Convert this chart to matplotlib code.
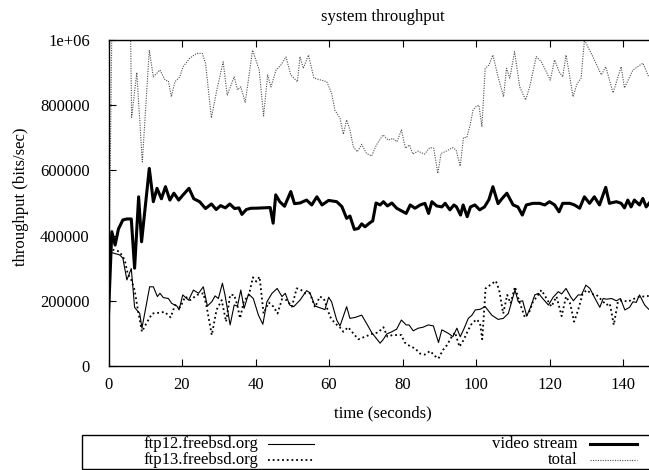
import matplotlib
matplotlib.use('Agg')
import numpy as np
import matplotlib.pyplot as plt
from matplotlib.lines import Line2D
from matplotlib.patches import Rectangle

plt.rcParams['font.family'] = ['Liberation Serif', 'DejaVu Serif']

# ---------------- data (values in kbit/s, time in seconds) ----------------
video_t = [0, 0.9, 1.8, 2.7, 3.9, 5.0, 6.2, 7.1, 8.2, 9.0, 11.1, 12.2, 13.2, 14.4, 15.5, 16.7,
           17.8, 19.1, 20.3, 21.9, 23.2, 24.8, 26.4, 28.0, 29.3, 30.5, 31.8, 33.0, 34.3, 35.5,
           36.3, 37.5, 38.8, 40.0, 44.0, 44.8, 45.5, 46.6, 47.9, 49.6, 50.6, 52.1, 53.9, 55.3,
           56.7, 58.1, 59.9, 62.1, 63.5, 64.8, 65.7, 66.9, 68.0, 68.9, 69.8, 71.2, 71.9, 72.8,
           73.9, 74.8, 75.9, 77.1, 78.4, 81.0, 82.1, 83.4, 84.8, 86.1, 87.1, 88.0, 89.3, 90.7,
           91.6, 92.9, 94.0, 94.7, 95.8, 96.5, 97.6, 98.5, 99.7, 101.0, 102.3, 103.5, 104.6,
           106.0, 107.2, 108.4, 110.1, 111.4, 112.6, 113.7, 115.5, 117.3, 118.7, 120.0, 121.4,
           122.6, 123.6, 125.5, 126.8, 128.2, 129.5, 130.9, 132.2, 133.6, 135.3, 136.3, 138.2,
           139.5, 140.4, 141.3, 142.2, 143.1, 144.5, 145.4, 146.3, 147.5]
video_kbps = [156, 412, 371, 420, 448, 451, 451, 300, 519, 381, 606, 504, 545, 513, 550, 509,
              530, 509, 525, 545, 513, 504, 483, 497, 480, 492, 485, 497, 483, 485,
              465, 480, 484, 484, 486, 438, 525, 504, 490, 535, 498, 500, 509, 494,
              519, 494, 508, 504, 489, 453, 460, 419, 422, 436, 427, 440, 445, 500,
              494, 504, 491, 500, 484, 468, 494, 484, 494, 499, 468, 504, 491, 488,
              499, 479, 494, 488, 463, 494, 458, 488, 494, 479, 488, 510, 550,
              498, 515, 530, 494, 488, 463, 494, 499, 499, 494, 504, 494,
              473, 499, 499, 494, 484, 519, 499, 519, 494, 548, 499, 504,
              499, 485, 509, 488, 509, 494, 514, 488, 505]

ftp12_t = [1.1, 3.0, 3.9, 5.0, 6.2, 7.1, 8.5, 9.1, 11.2, 12.2, 13.3, 14.0, 14.9, 16.3, 17.2,
           18.6, 19.2, 20.2, 21.8, 23.1, 24.5, 25.8, 26.9, 28.1, 29.0, 29.9, 31.0, 31.7, 33.1,
           34.2, 35.1, 36.0, 36.9, 38.1, 39.4, 40.8, 42.0, 43.1, 44.5, 45.9, 47.2, 48.1, 49.3,
           50.4, 52.1, 53.9, 54.8, 56.2, 58.9, 59.9, 60.7, 62.1, 63.0, 64.8, 65.7, 67.1, 68.9,
           70.2, 71.6, 73.9, 74.8, 75.7, 77.1, 78.4, 79.7, 81.0, 81.8, 82.9, 84.3, 85.6, 87.0,
           88.4, 89.8, 90.7, 92.5, 93.7, 94.8, 95.7, 96.6, 97.9, 98.9, 99.8, 101.1, 102.5,
           104.3, 106.0, 107.4, 108.8, 110.6, 111.5, 112.7, 113.8, 114.9, 116.0, 117.0, 118.3,
           119.7, 121.0, 122.4, 123.3, 124.5, 125.6, 126.5, 127.8, 128.7, 129.9, 131.0, 132.4,
           133.7, 134.6, 135.5, 136.9, 138.2, 139.3, 140.5, 141.8, 142.7, 143.6, 144.5, 145.9,
           147.0]
ftp12_kbps = [347, 341, 331, 264, 299, 180, 161, 116, 243, 243, 213, 223, 210, 207, 192,
              184, 172, 218, 202, 233, 223, 243, 184, 197, 215, 207, 254, 218, 126,
              187, 184, 233, 177, 221, 207, 156, 128, 197, 223, 238, 213, 223, 187,
              182, 202, 231, 225, 184, 173, 211, 197, 141, 123, 182, 146, 149, 156,
              131, 103, 70, 82, 98, 105, 113, 141, 126, 126, 108, 116, 119, 126,
              123, 72, 111, 100, 90, 116, 90, 111, 146, 156, 172, 174, 182,
              156, 143, 146, 161, 233, 197, 200, 153, 182, 218, 223, 205,
              187, 211, 228, 221, 238, 215, 200, 218, 218, 248, 238, 207,
              180, 207, 205, 207, 200, 207, 172, 180, 197, 195, 218, 187,
              174]

ftp13_t = [1.1, 3.0, 4.4, 5.2, 6.2, 7.1, 8.0, 9.1, 10.3, 11.9, 13.5, 15.3, 16.9, 18.1, 19.5,
           20.9, 22.2, 24.1, 25.8, 26.7, 28.1, 29.4, 30.8, 32.0, 33.1, 34.2, 35.1, 35.8, 36.9,
           38.1, 39.3, 40.2, 41.1, 42.2, 43.6, 44.9, 46.0, 47.2, 48.5, 49.9, 51.2, 52.1, 53.5,
           54.8, 56.2, 57.5, 58.6, 59.4, 60.3, 61.6, 62.8, 63.9, 65.2, 66.6, 68.0, 69.8, 71.6,
           73.4, 74.8, 75.9, 77.3, 79.7, 80.6, 82.0, 83.4, 84.8, 86.1, 87.5, 88.9, 89.8, 91.0,
           92.1, 93.4, 94.3, 95.5, 96.6, 97.9, 98.9, 100.2, 101.1, 101.7, 102.6, 103.8, 105.4,
           106.3, 107.4, 108.5, 109.4, 110.6, 111.8, 113.3, 114.5, 115.5, 116.6, 117.8, 119.2,
           120.5, 121.9, 123.3, 124.5, 125.6, 126.7, 127.8, 129.0, 130.1, 131.5, 132.8, 134.2,
           135.5, 136.4, 137.5, 138.6, 139.8, 141.3, 142.7, 144.1, 145.4, 147.0]
ftp13_kbps = [357, 351, 326, 284, 264, 233, 172, 105, 131, 161, 163, 166, 149, 187, 180,
              213, 202, 218, 223, 182, 95, 172, 202, 136, 218, 218, 184, 146, 202,
              213, 272, 259, 274, 161, 195, 182, 161, 205, 202, 182, 238, 236, 223,
              223, 180, 213, 207, 180, 151, 131, 121, 105, 119, 100, 82, 90, 98,
              103, 119, 90, 95, 95, 72, 61, 54, 38, 35, 46, 30, 23, 49,
              64, 90, 103, 59, 79, 111, 131, 143, 131, 82, 238, 248, 261,
              233, 161, 218, 192, 243, 197, 149, 166, 197, 213, 233, 207,
              182, 213, 153, 213, 192, 136, 172, 221, 233, 221, 218, 202,
              187, 192, 126, 197, 202, 197, 205, 211, 213, 215]

total_t = [0, 1, 2, 3, 4, 5, 6.0, 6.3, 7.7, 9.2, 11.1, 12.2, 14.0, 15.4, 16.3, 17.1, 18.1, 19.4,
           20.3, 22.1, 24.0, 25.5, 26.4, 28.0, 29.6, 31.2, 32.3, 34.2, 35.1, 36.0, 37.2, 39.2,
           41.0, 42.2, 43.3, 44.2, 45.6, 46.9, 48.3, 49.6, 51.4, 52.1, 53.0, 54.4, 55.9, 59.4,
           60.7, 61.6, 63.0, 63.9, 64.8, 65.7, 66.6, 67.7, 68.9, 70.2, 71.6, 72.9, 74.7, 76.1,
           77.4, 78.5, 79.7, 80.8, 81.9, 82.8, 84.2, 86.0, 87.4, 88.5, 89.6, 90.5, 91.9, 93.7,
           94.6, 95.7, 96.6, 97.5, 98.4, 99.2, 100.1, 100.8, 101.6, 102.5, 103.5, 104.6, 106.0,
           107.5, 108.3, 109.2, 110.5, 111.9, 113.5, 114.6, 116.4, 117.8, 119.1, 120.2, 121.4,
           122.6, 123.6, 124.5, 125.3, 126.4, 127.5, 128.6, 129.5, 131.8, 134.1, 135.3, 137.3,
           139.5, 140.4, 142.7, 145.4, 147.0]
total_kbps = [156, 1120, 1080, 1110, 1100, 1000, 1020, 763, 900, 626, 969, 887, 908, 877, 874,
              826, 872, 887, 918, 944, 959, 959, 929, 761, 853, 933, 831, 887, 847, 856, 808,
              969, 908, 767, 893, 856, 908, 923, 948, 893, 872, 949, 913, 954, 883, 872,
              837, 785, 760, 711, 755, 724, 673, 657, 680, 652, 644, 678, 709, 693,
              698, 688, 724, 668, 678, 650, 659, 650, 670, 668, 591, 652, 659, 670,
              662, 613, 701, 701, 739, 785, 797, 800, 734, 913, 923, 954, 887,
              826, 913, 883, 964, 856, 816, 856, 949, 933, 903, 877, 939,
              903, 887, 954, 903, 826, 866, 883, 1000, 949, 893, 918, 838,
              918, 853, 908, 929, 887]

x_ticks = [0, 20, 40, 60, 80, 100, 120, 140]
y_ticks = [0, 200000, 400000, 600000, 800000, 1000000]
y_tick_labels = ['0', '200000', '400000', '600000', '800000', '1e+06']

# ---------------- figure ----------------
W, H = 649, 470
fig = plt.figure(figsize=(W / 100, H / 100), dpi=100)
ax = fig.add_axes([108.5 / W, (H - 366) / H, (659.75 - 108.5) / W, (366 - 40) / H])

styles = {
    'ftp12': dict(color='black', lw=0.8, ls='-'),
    'ftp13': dict(color='black', lw=1.3, ls=(0, (1, 1.6))),
    'video': dict(color='black', lw=2.2, ls='-'),
    'total': dict(color='0.3', lw=0.8, ls=(0, (1, 1.2))),
}

ax.plot(total_t, np.array(total_kbps) * 1000, **styles['total'])
ax.plot(ftp13_t, np.array(ftp13_kbps) * 1000, **styles['ftp13'])
ax.plot(ftp12_t, np.array(ftp12_kbps) * 1000, **styles['ftp12'])
ax.plot(video_t, np.array(video_kbps) * 1000, **styles['video'])

ax.set_xlim(0, 150)
ax.set_ylim(0, 1000000)
ax.set_xticks(x_ticks)
ax.set_xticklabels([str(v) for v in x_ticks])
ax.set_yticks(y_ticks)
ax.set_yticklabels(y_tick_labels)
ax.tick_params(direction='in', length=5, width=0.8, top=True, right=True, labelsize=12,
               colors='black')
ax.tick_params(axis='y', pad=13.5)
ax.tick_params(axis='x', pad=8)
for s in ax.spines.values():
    s.set_linewidth(1.0)

fig.text(383 / W, 1 - 17 / H, 'system throughput', ha='center', va='center', fontsize=12)
fig.text(383 / W, 1 - 413 / H, 'time (seconds)', ha='center', va='center', fontsize=12)
fig.text(21 / W, 1 - 197 / H, 'throughput (bits/sec)', ha='center', va='center',
         rotation=90, fontsize=12)

# ---------------- legend (gnuplot style: label then sample) ----------------
fig.add_artist(Rectangle((82 / W, (H - 469) / H), (665 - 82) / W, (469 - 435) / H,
                         transform=fig.transFigure, fill=False, lw=1.0, ec='black'))
legend_rows = [
    ('ftp12.freebsd.org', 'ftp12', 258.5, 267.7, 314.3, 443.5),
    ('ftp13.freebsd.org', 'ftp13', 258.5, 267.7, 314.3, 459.5),
    ('video stream', 'video', 578, 590, 637, 443.5),
    ('total', 'total', 578, 590, 637, 459.5),
]
for label, key, tx, x0, x1, yy in legend_rows:
    fig.text(tx / W, 1 - yy / H, label, ha='right', va='center', fontsize=12)
    fig.add_artist(Line2D([x0 / W, x1 / W], [1 - yy / H, 1 - yy / H],
                          transform=fig.transFigure, **styles[key]))

fig.savefig('out.png', dpi=100)
